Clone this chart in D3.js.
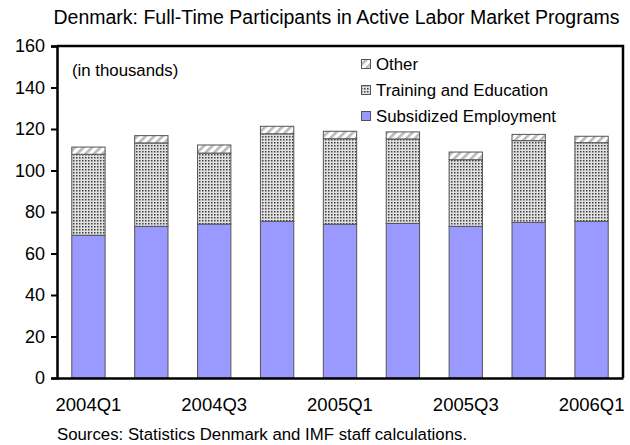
<!DOCTYPE html>
<html>
<head>
<meta charset="utf-8">
<script src="https://cdn.jsdelivr.net/npm/d3@7"></script>
<style>
  html, body { margin: 0; padding: 0; background: #fff; }
  svg { display: block; font-family: "Liberation Sans", Arial, sans-serif; }
</style>
</head>
<body>
<svg id="chart" width="630" height="445"></svg>
<script>
// Quarterly participants (thousands), stacked bottom to top
const quarters = ["2004Q1","2004Q2","2004Q3","2004Q4","2005Q1","2005Q2","2005Q3","2005Q4","2006Q1"];
const subsidized = [68.8, 73.1, 74.2, 75.5, 74.1, 74.5, 73.1, 75.0, 75.5];
const training   = [39.0, 40.2, 34.2, 42.2, 41.2, 40.7, 32.1, 39.4, 37.9];
const other      = [3.5, 3.5, 3.9, 3.6, 3.6, 3.4, 3.7, 3.0, 3.1];
const yTicks = [0, 20, 40, 60, 80, 100, 120, 140, 160];
const xLabelQuarters = ["2004Q1","2004Q3","2005Q1","2005Q3","2006Q1"];
const seriesNames = ["Subsidized Employment", "Training and Education", "Other"];

const svg = d3.select("#chart");
const margin = {left: 57, right: 7, top: 46, bottom: 67};
const W = 630, H = 445;
const plotW = W - margin.left - margin.right;
const plotH = H - margin.top - margin.bottom;

// Fill patterns
const defs = svg.append("defs");
const dots = defs.append("pattern").attr("id", "dots")
  .attr("width", 3).attr("height", 3).attr("patternUnits", "userSpaceOnUse");
dots.append("rect").attr("width", 3).attr("height", 3).attr("fill", "#e0e0e0");
dots.append("rect").attr("x", 1).attr("y", 1).attr("width", 1.5).attr("height", 1.5).attr("fill", "#404040");

const hatch = defs.append("pattern").attr("id", "hatch")
  .attr("width", 6).attr("height", 6).attr("patternUnits", "userSpaceOnUse")
  .attr("patternTransform", "rotate(45)");
hatch.append("rect").attr("width", 6).attr("height", 6).attr("fill", "#fff");
hatch.append("rect").attr("x", 0).attr("width", 2.6).attr("height", 6).attr("fill", "#b8b8b8");

const fills = {
  "Subsidized Employment": "#9999ff",
  "Training and Education": "url(#dots)",
  "Other": "url(#hatch)"
};

const rows = quarters.map((q, i) => ({
  q,
  "Subsidized Employment": subsidized[i],
  "Training and Education": training[i],
  "Other": other[i]
}));
const stacked = d3.stack().keys(seriesNames)(rows);

const x = d3.scaleBand().domain(quarters).range([margin.left, margin.left + plotW]).paddingInner(0.47).paddingOuter(0.235);
const y = d3.scaleLinear().domain([0, 160]).range([margin.top + plotH, margin.top]);

// Title
svg.append("text").attr("x", 336.5).attr("y", 24).attr("text-anchor", "middle")
  .attr("font-size", 19.5).attr("fill", "#000")
  .text("Denmark: Full-Time Participants in Active Labor Market Programs");

// Bars
const g = svg.append("g");
stacked.forEach(layer => {
  g.append("g").selectAll("rect").data(layer).join("rect")
    .attr("x", d => x(d.data.q))
    .attr("width", x.bandwidth())
    .attr("y", d => y(d[1]))
    .attr("height", d => y(d[0]) - y(d[1]))
    .attr("fill", fills[layer.key])
    .attr("stroke", "#555")
    .attr("stroke-width", 1);
});

// Plot frame (top and right)
svg.append("path")
  .attr("d", `M${margin.left},${margin.top}H${margin.left + plotW}V${margin.top + plotH}`)
  .attr("fill", "none").attr("stroke", "#000").attr("stroke-width", 2.5);

// Y axis
const yAxis = d3.axisLeft(y).tickValues(yTicks).tickSize(6).tickPadding(6);
const ya = svg.append("g").attr("transform", `translate(${margin.left},0)`).call(yAxis);
ya.select(".domain").attr("stroke", "#000").attr("stroke-width", 2.5);
ya.selectAll(".tick line").attr("stroke", "#000").attr("stroke-width", 2);
ya.selectAll(".tick text").attr("font-size", 18).attr("font-family", "Liberation Sans, Arial, sans-serif").attr("fill", "#000");

// X axis
const xAxis = d3.axisBottom(x).tickSize(0).tickPadding(20)
  .tickFormat(d => xLabelQuarters.includes(d) ? d : "");
const xa = svg.append("g").attr("transform", `translate(0,${margin.top + plotH})`).call(xAxis);
xa.select(".domain").attr("stroke", "#000").attr("stroke-width", 2.5);
xa.selectAll(".tick text").attr("font-size", 18.5).attr("font-family", "Liberation Sans, Arial, sans-serif").attr("fill", "#000");

// Units note
svg.append("text").attr("x", 72).attr("y", 76).attr("font-size", 16.8).text("(in thousands)");

// Legend (top to bottom: Other, Training, Subsidized)
const legendOrder = ["Other", "Training and Education", "Subsidized Employment"];
const lg = svg.append("g");
legendOrder.forEach((name, i) => {
  const yy = 59 + i * 26;
  lg.append("rect").attr("x", 361.5).attr("y", yy + 0.5).attr("width", 9).attr("height", 9)
    .attr("fill", fills[name]).attr("stroke", "#555").attr("stroke-width", 1);
  lg.append("text").attr("x", 376).attr("y", yy + 11).attr("font-size", 16.8).text(name);
});

// Source note
svg.append("text").attr("x", 57).attr("y", 440).attr("font-size", 16.8).text("Sources: Statistics Denmark and IMF staff calculations.");
</script>
</body>
</html>
